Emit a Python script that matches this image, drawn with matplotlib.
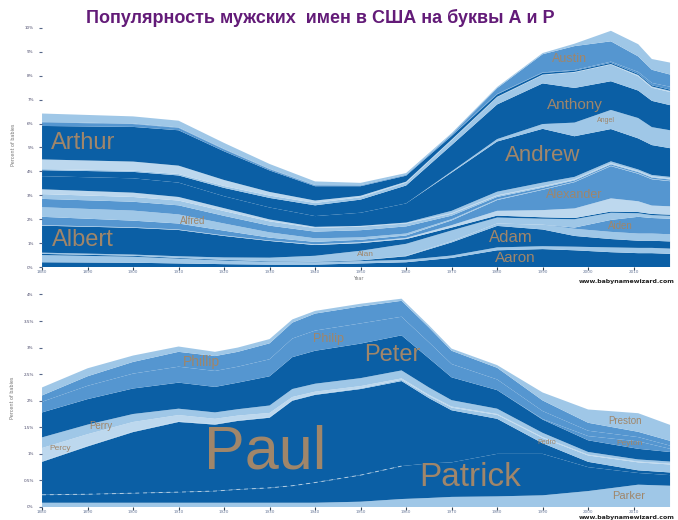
import matplotlib.pyplot as plt
import numpy as np

# --- names starting with A (share of boys, %) ---
a_years = [1880, 1900, 1910, 1920, 1930, 1940, 1950, 1960, 1970, 1980, 1990, 1997, 2005, 2011, 2014, 2018]
a_names = ["Aaron", "Abraham", "Adam", "Adrian", "Aiden", "Alan", "Albert", "Alex",
           "Alexander", "Alfred", "Allen", "Alvin", "Amos", "Andre", "Andrew", "Angel",
           "Anthony", "Antonio", "Archie", "Arthur", "August", "Austin", "Avery"]
a_values = [
    [.20, .18, .15, .12, .10, .10, .15, .20, .38, .70, .75, .70, .62, .58, .58, .55],
    [.30, .25, .20, .15, .12, .10, .10, .10, .10, .12, .12, .15, .20, .22, .22, .22],
    [.05, .04, .03, .03, .02, .02, .03, .15, .55, .90, .70, .45, .35, .30, .30, .30],
    [0, 0, 0, 0, 0, 0, 0, .02, .05, .10, .20, .30, .30, .30, .30, .30],
    [0, 0, 0, 0, 0, 0, 0, 0, 0, 0, 0, .05, .50, .70, .65, .65],
    [.05, .05, .07, .10, .15, .25, .40, .50, .45, .25, .25, .35, .30, .15, .12, .12],
    [1.13, 1.12, 1.10, .90, .70, .45, .32, .20, .12, .08, .06, .05, .05, .05, .05, .05],
    [.02, .02, .02, .02, .02, .03, .04, .05, .10, .20, .30, .40, .55, .45, .35, .35],
    [.35, .28, .25, .20, .12, .10, .10, .10, .20, .45, .85, 1.10, 1.35, 1.15, 1.10, 1.05],
    [.40, .42, .38, .30, .22, .15, .10, .08, .05, .03, .02, .02, .02, .02, .02, .02],
    [.35, .37, .38, .32, .28, .28, .30, .30, .15, .10, .07, .05, .05, .05, .05, .05],
    [.20, .20, .20, .20, .18, .15, .15, .12, .08, .05, .04, .03, .03, .03, .03, .03],
    [.20, .18, .15, .12, .08, .05, .03, .02, .02, .02, .02, .02, .02, .02, .02, .02],
    [0, 0, 0, 0, 0, 0, 0, .02, .10, .15, .15, .10, .08, .06, .06, .06],
    [.55, .60, .60, .50, .50, .45, .55, .80, 1.60, 2.10, 2.25, 1.70, 1.35, 1.30, 1.25, 1.20],
    [0, 0, 0, 0, 0, 0, 0, 0, .05, .10, .20, .57, .80, .85, .75, .75],
    [.25, .27, .30, .35, .40, .45, .55, .75, 1.10, 1.45, 1.70, 1.45, 1.20, 1.15, 1.10, 1.05],
    [.05, .05, .06, .08, .10, .10, .10, .12, .20, .30, .35, .65, .70, .60, .55, .55],
    [.40, .38, .35, .25, .15, .10, .06, .04, .03, .02, .02, .02, .02, .05, .05, .05],
    [1.40, 1.45, 1.48, 1.20, .90, .60, .40, .25, .15, .10, .07, .05, .05, .05, .05, .05],
    [.15, .12, .10, .08, .05, .03, .02, .02, .02, .02, .02, .03, .05, .08, .10, .12],
    [.02, .02, .02, .02, .02, .02, .02, .02, .05, .24, .76, 1.00, .85, .65, .55, .51],
    [.35, .30, .28, .25, .20, .15, .10, .07, .05, .05, .05, .10, .44, .51, .45, .50],
]
a_shades = ["D", "L", "D", "L", "M", "L", "D", "P", "M", "L", "M", "L", "P", "L", "D", "L",
            "D", "L", "P", "D", "M", "M", "L"]

# --- names starting with P (share of boys, %) ---
p_years = [1880, 1890, 1900, 1910, 1918, 1923, 1930, 1935, 1940, 1950, 1959, 1965, 1970, 1980, 1990, 2000, 2011, 2018]
p_names = ["Parker", "Patrick", "Paul", "Pedro", "Percy", "Perry", "Peter", "Peyton",
           "Philip", "Phillip", "Preston"]
p_values = [
    [.08, .08, .08, .08, .08, .08, .08, .08, .08, .10, .15, .17, .19, .20, .22, .30, .42, .40],
    [.15, .16, .18, .20, .22, .25, .28, .32, .38, .50, .62, .65, .65, .80, .78, .45, .22, .20],
    [.62, .90, 1.15, 1.32, 1.25, 1.29, 1.32, 1.60, 1.65, 1.62, 1.60, 1.23, .98, .66, .20, .10, .05, .05],
    [.01, .01, .01, .01, .01, .01, .01, .01, .01, .015, .025, .04, .05, .075, .10, .12, .15, .15],
    [.25, .22, .18, .12, .10, .09, .08, .06, .05, .04, .025, .02, .02, .015, .015, .015, .015, .015],
    [.20, .18, .15, .12, .12, .12, .14, .15, .15, .15, .15, .14, .12, .10, .08, .05, .04, .04],
    [.47, .48, .48, .49, .48, .50, .55, .60, .62, .65, .66, .55, .43, .35, .25, .22, .20, .18],
    [0, 0, 0, 0, 0, 0, 0, 0, 0, 0, 0, 0, 0, 0, .01, .08, .14, .06],
    [.20, .25, .28, .30, .30, .30, .32, .35, .38, .38, .35, .30, .25, .20, .15, .10, .08, .06],
    [.12, .18, .22, .28, .28, .28, .30, .30, .32, .32, .30, .28, .25, .22, .20, .15, .10, .09],
    [.15, .15, .12, .10, .08, .08, .08, .06, .05, .05, .04, .04, .04, .05, .15, .25, .35, .30],
]
p_shades = ["L", "D", "D", "L", "P", "L", "D", "M", "M", "M", "L"]

# labels: name, year, font size
a_labels = [("Arthur", 1889, 17), ("Albert", 1889, 17), ("Andrew", 1990, 16),
            ("Anthony", 1997, 11), ("Austin", 1996, 9), ("Alexander", 1997, 9),
            ("Adam", 1983, 12), ("Aaron", 1984, 11), ("Alfred", 1913, 7),
            ("Alan", 1951, 6), ("Aiden", 2007, 7), ("Angel", 2004, 5)]
p_labels = [("Paul", 1929, 44), ("Patrick", 1974, 24), ("Peter", 1957, 17),
            ("Phillip", 1915, 10), ("Philip", 1943, 9), ("Perry", 1893, 7),
            ("Percy", 1884, 6), ("Parker", 2009, 8), ("Preston", 2008, 7),
            ("Peyton", 2009, 6), ("Pedro", 1991, 5)]

palette = {"D": "#0b5fa5", "M": "#5596d0", "L": "#9fc7e7", "P": "#bdd8ee"}
label_color = "#a0866a"


def draw_panel(ax, years, names, values, shades, labels, ymax, ticks, ticklabels):
    vals = np.array(values)
    ax.stackplot(years, vals, colors=[palette[s] for s in shades], linewidth=0)
    cum = np.cumsum(vals, axis=0)
    for name, yr, fs in labels:
        i = names.index(name)
        top = np.interp(yr, years, cum[i])
        bottom = np.interp(yr, years, cum[i] - vals[i])
        ax.text(yr, (top + bottom) / 2, name, color=label_color, fontsize=fs,
                ha="center", va="center", family="Liberation Sans")
    ax.set_xlim(1880, 2019)
    ax.set_ylim(0, ymax)
    for s in ax.spines.values():
        s.set_visible(False)
    ax.set_xticks(range(1880, 2020, 10))
    ax.set_xticklabels([str(y) for y in range(1880, 2020, 10)], fontsize=3, color="#6a7a9a")
    ax.set_yticks(ticks)
    ax.set_yticklabels(ticklabels, fontsize=3, color="#444466")
    ax.tick_params(axis="x", length=2, width=0.8, color="#334455", pad=0.5)
    ax.tick_params(axis="y", length=2, width=0.8, color="#556688", pad=4)
    ax.set_ylabel("Percent of babies", fontsize=3.5, color="#777777", labelpad=6)
    return vals, cum


fig = plt.figure(figsize=(6.78, 5.2), dpi=100)

ax1 = fig.add_axes([0.062, 0.4865, 0.933, 0.469])
draw_panel(ax1, a_years, a_names, a_values, a_shades, a_labels, 10.2,
           list(range(0, 11)), [f"{t}%" for t in range(0, 11)])
ax1.set_xlabel("Year", fontsize=3.5, color="#777777", labelpad=1)

ax2 = fig.add_axes([0.062, 0.025, 0.933, 0.419])
vals, cum = draw_panel(ax2, p_years, p_names, p_values, p_shades, p_labels, 4.1,
                       [t / 2 for t in range(0, 9)], [f"{t / 2:g}%" for t in range(0, 9)])
# faint dashed seam between Patrick and Paul (visible only in the early decades)
k = p_years.index(1959) + 1
ax2.plot(p_years[:k], cum[p_names.index("Patrick")][:k], color="white", lw=0.7,
         ls=(0, (4, 4)), alpha=0.6)

fig.text(0.472, 0.965, "Популярность мужских  имен в США на буквы А и Р",
         ha="center", va="center", fontsize=13, fontweight="bold", color="#631b78",
         family="Liberation Sans")
fig.text(0.995, 0.458, "www.babynamewizard.com", ha="right", va="center",
         fontsize=4.5, fontweight="bold", color="#222222")
fig.text(0.995, 0.0, "www.babynamewizard.com", ha="right", va="bottom",
         fontsize=4.5, fontweight="bold", color="#222222")

fig.savefig("out.png", dpi=100)
